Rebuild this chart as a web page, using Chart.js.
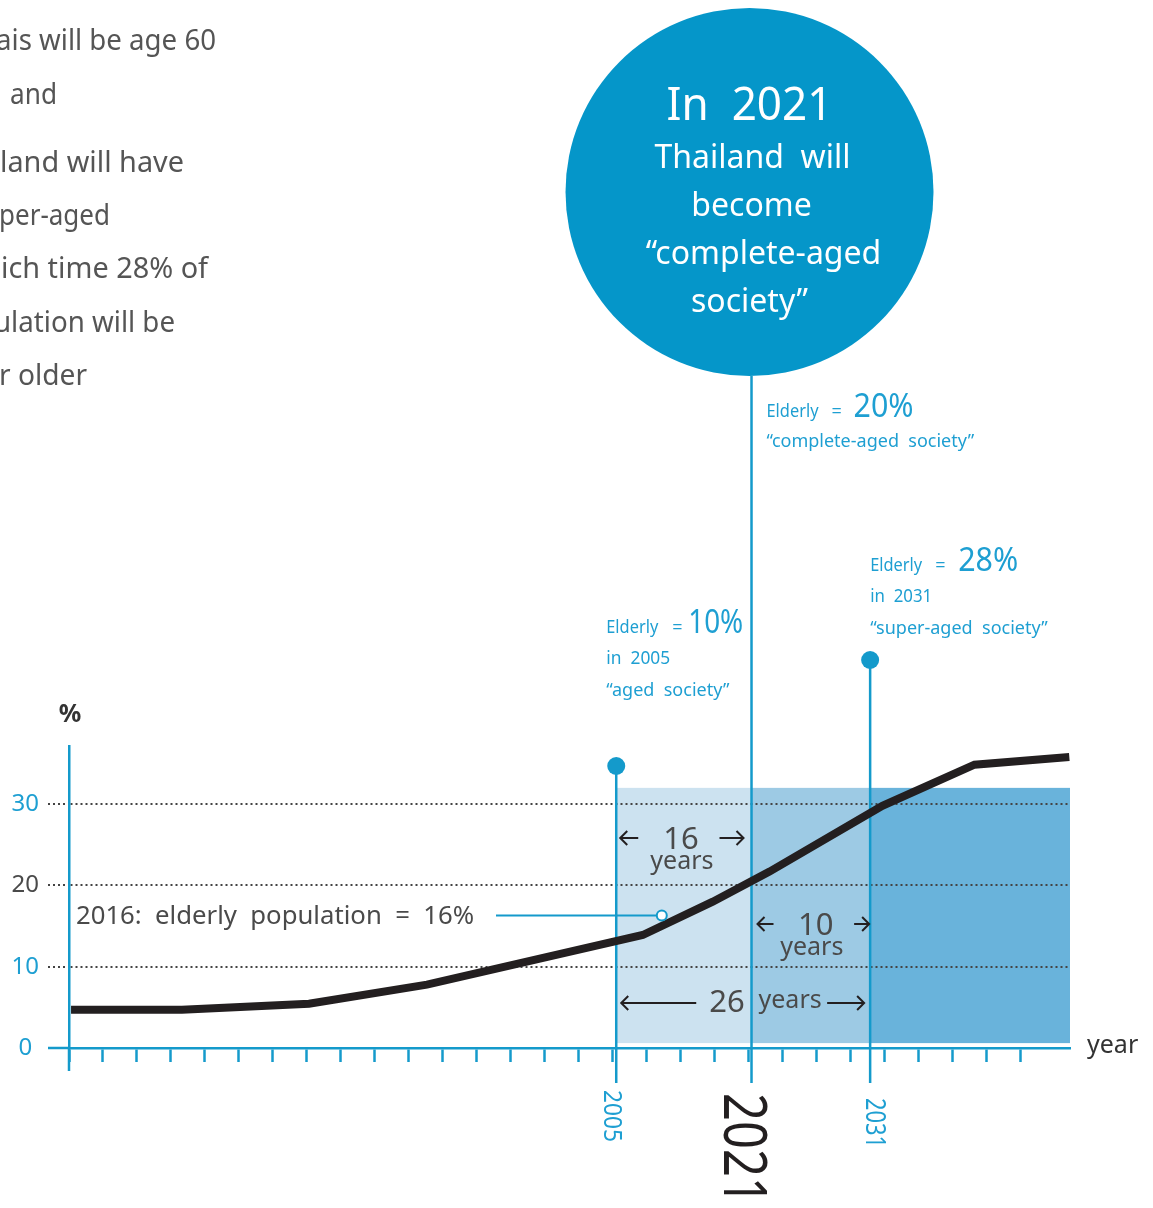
<!DOCTYPE html>
<html><head><meta charset="utf-8">
<script src="https://cdn.jsdelivr.net/npm/chart.js@4/dist/chart.umd.min.js"></script>
<style>html,body{margin:0;padding:0;background:#fff;overflow:hidden}#wrap{position:relative;width:1153px;height:1208px}</style>
</head><body><div id="wrap"><canvas id="c"></canvas></div>
<script>
// ---------- data ----------
// x axis is schematic: positions are in "tick steps" along the drawn axis
const axisSteps = [0,1,2,3,4,5,6,7,8,9,10,11,12,13,14,15,16,17,18,19,20,21,22,23,24,25,26,27,28];
const seriesSteps  = [0.06, 3.32, 7.06, 10.53, 16.88, 18.94, 20.61, 23.93, 26.64, 29.43];
const elderlyShare = [4.7, 4.7, 5.45, 7.8, 13.9, 18.0, 21.7, 29.8, 34.85, 35.8];
const yTickValues = [0, 10, 20, 30];
const milestoneYears  = [2005, 2021, 2031];
const milestoneSteps  = [16.1, 20.08, 23.57];
const milestoneShares = ['10%', '20%', '28%'];
const milestoneNames  = ['“aged  society”', '“complete-aged  society”', '“super-aged  society”'];
const gapYears = ['16', '10', '26'];
const highlightStep  = [17.44];   // 2016
const highlightShare = [16.3];
const highlightLabel = '2016:  elderly  population  =  16%';
const circleLines = ['In  2021', 'Thailand  will', 'become', '“complete-aged', 'society”'];
const sideLines = ['ais will be age 60', 'and', 'land will have', 'per-aged', 'ich time 28% of', 'ulation will be', 'r older'];

// ---------- style ----------
const BLUE = '#149ACB', TBLUE = '#1E9FD2', CIRCLE = '#0596C9', DARK = '#4A4A4A', BLACK = '#231F20', DOT = '#444444';
const BANDS = ['#CCE2F0', '#9DCAE4', '#69B3DB'];
const F = '"Noto Sans", "DejaVu Sans", sans-serif';

function txt(ctx, s, x, y, size, color, align, maxW, weight) {
  ctx.font = (weight || 'normal') + ' ' + size + 'px ' + F;
  ctx.fillStyle = color; ctx.textAlign = align || 'left'; ctx.textBaseline = 'alphabetic';
  if (maxW && ctx.measureText(s).width > maxW) ctx.fillText(s, x, y, maxW);
  else ctx.fillText(s, x, y);
}
function arrow(ctx, x1, x2, y) {
  const d = Math.sign(x2 - x1), h = 7;
  ctx.beginPath();
  ctx.moveTo(x1, y); ctx.lineTo(x2, y);
  ctx.moveTo(x2 - d * h, y - h); ctx.lineTo(x2, y); ctx.lineTo(x2 - d * h, y + h);
  ctx.strokeStyle = BLACK; ctx.lineWidth = 2; ctx.lineCap = 'butt'; ctx.lineJoin = 'miter'; ctx.stroke();
}
function vtext(ctx, s, x, y, size, color, maxW) {
  ctx.save(); ctx.translate(x, y); ctx.rotate(Math.PI / 2);
  txt(ctx, s, 0, 0, size, color, 'left', maxW);
  ctx.restore();
}

const bandsPlugin = {
  id: 'bands',
  beforeDraw(chart) {
    const {ctx, scales: {x, y}} = chart;
    const edges = [milestoneSteps[0], milestoneSteps[1], milestoneSteps[2], x.max];
    const top = y.getPixelForValue(32), bot = y.getPixelForValue(0.6);
    ctx.save();
    for (let i = 0; i < 3; i++) {
      const a = x.getPixelForValue(edges[i]), b = x.getPixelForValue(edges[i + 1]);
      ctx.fillStyle = BANDS[i];
      ctx.fillRect(a, top, b - a, bot - top);
    }
    ctx.restore();
  },
  beforeDatasetsDraw(chart) {
    const {ctx, scales: {x, y}, chartArea} = chart;
    const bottom = chartArea.bottom;
    ctx.save();
    ctx.strokeStyle = BLUE; ctx.lineWidth = 2.5; ctx.lineCap = 'butt';
    ctx.beginPath(); ctx.moveTo(chartArea.left, bottom); ctx.lineTo(chartArea.left, bottom + 23); ctx.stroke();
    const tops = [766, 376, 660];
    milestoneSteps.forEach((s, i) => {
      const px = x.getPixelForValue(s);
      ctx.beginPath(); ctx.moveTo(px, tops[i]); ctx.lineTo(px, bottom + 35); ctx.stroke();
    });
    const hx = x.getPixelForValue(highlightStep[0]), hy = y.getPixelForValue(highlightShare[0]);
    ctx.beginPath(); ctx.moveTo(496, hy); ctx.lineTo(hx - 5, hy); ctx.lineWidth = 2; ctx.stroke();
    ctx.restore();
  },
  afterDraw(chart) {
    const {ctx, scales: {x, y}, chartArea} = chart;
    const x05 = x.getPixelForValue(milestoneSteps[0]);
    const x21 = x.getPixelForValue(milestoneSteps[1]);
    const x31 = x.getPixelForValue(milestoneSteps[2]);
    ctx.save();
    ctx.fillStyle = BLUE;
    [[x05, 766], [x31, 660]].forEach(([cx, cy]) => { ctx.beginPath(); ctx.arc(cx, cy, 9, 0, Math.PI * 2); ctx.fill(); });
    const cx = x21 - 2, cy = 192;
    ctx.beginPath(); ctx.arc(cx, cy, 184, 0, Math.PI * 2); ctx.fillStyle = CIRCLE; ctx.fill();
    txt(ctx, circleLines[0], cx, 120, 46, '#fff', 'center', 166);
    txt(ctx, circleLines[1], cx + 3, 168, 32, '#fff', 'center', 204);
    txt(ctx, circleLines[2], cx + 2, 216, 32, '#fff', 'center', 136);
    txt(ctx, circleLines[3], cx + 14, 264, 32, '#fff', 'center', 266);
    txt(ctx, circleLines[4], cx, 312, 32, '#fff', 'center', 124);

    const side = [[-4, 50, 220], [10, 104, 47], [0, 172, 184], [-1, 225, 111], [1, 278, 207], [-6, 332, 181], [-1, 385, 88]];
    side.forEach(([sx, sy, w], i) => txt(ctx, sideLines[i], sx, sy, 29, '#555555', 'left', w));

    txt(ctx, 'Elderly', x21 + 15, 417, 18, TBLUE, 'left', 52);
    txt(ctx, '=', x21 + 80, 417, 18, TBLUE, 'left');
    txt(ctx, milestoneShares[1], x21 + 102, 417, 33, TBLUE, 'left', 60);
    txt(ctx, milestoneNames[1], x21 + 15, 447, 18, TBLUE, 'left', 221);

    txt(ctx, 'Elderly', x31, 571, 18, TBLUE, 'left', 52);
    txt(ctx, '=', x31 + 65, 571, 18, TBLUE, 'left');
    txt(ctx, milestoneShares[2], x31 + 88, 571, 33, TBLUE, 'left', 60);
    txt(ctx, 'in  ' + milestoneYears[2], x31, 602, 18, TBLUE, 'left', 62);
    txt(ctx, milestoneNames[2], x31, 634, 18, TBLUE, 'left', 186);

    txt(ctx, 'Elderly', x05 - 10, 633, 18, TBLUE, 'left', 52);
    txt(ctx, '=', x05 + 56, 633, 18, TBLUE, 'left');
    txt(ctx, milestoneShares[0], x05 + 72, 633, 33, TBLUE, 'left', 55);
    txt(ctx, 'in  ' + milestoneYears[0], x05 - 10, 664, 18, TBLUE, 'left', 64);
    txt(ctx, milestoneNames[0], x05 - 10, 696, 18, TBLUE, 'left', 134);

    const m1 = (x05 + x21) / 2, m2 = (x21 + x31) / 2;
    arrow(ctx, x05 + 22, x05 + 4, 838); arrow(ctx, x21 - 32, x21 - 8, 838);
    txt(ctx, gapYears[0], m1 - 3, 849, 31, DARK, 'center');
    txt(ctx, 'years', m1 - 2, 869, 25, DARK, 'center', 66);
    arrow(ctx, x21 + 22, x21 + 6, 924); arrow(ctx, x31 - 16, x31 - 1, 924);
    txt(ctx, gapYears[1], m2 + 5, 935, 31, DARK, 'center');
    txt(ctx, 'years', m2 + 1, 955, 25, DARK, 'center', 66);
    arrow(ctx, x05 + 80, x05 + 5, 1003); arrow(ctx, x31 - 43, x31 - 6, 1003);
    txt(ctx, gapYears[2], x05 + 93, 1012, 31, DARK, 'left');
    txt(ctx, 'years', x21 + 7, 1008, 25, DARK, 'left', 66);

    const hy = y.getPixelForValue(highlightShare[0]);
    txt(ctx, highlightLabel, 76, hy + 9, 26, DARK, 'left', 398);

    txt(ctx, '%', chartArea.left + 1, 722, 25, '#333', 'center', null, 'bold');
    txt(ctx, 'year', chartArea.right + 17, 1053, 25, '#333', 'left', 52);

    vtext(ctx, String(milestoneYears[0]), x05 - 12, 1090, 26, TBLUE, 52);
    vtext(ctx, String(milestoneYears[1]), x21 - 28, 1093, 60, BLACK, 112);
    vtext(ctx, String(milestoneYears[2]), x31 - 4, 1098, 27, TBLUE, 50);
    ctx.restore();
  }
};

new Chart(document.getElementById('c'), {
  type: 'line',
  data: {
    datasets: [
      {
        label: 'Elderly population (%)',
        data: seriesSteps.map((s, i) => ({x: s, y: elderlyShare[i]})),
        borderColor: BLACK, borderWidth: 8, pointRadius: 0, tension: 0,
        fill: false, clip: false, order: 2
      },
      {
        type: 'scatter',
        label: '2016',
        data: highlightStep.map((s, i) => ({x: s, y: highlightShare[i]})),
        pointRadius: 5, pointBorderWidth: 2, pointBackgroundColor: '#fff', pointBorderColor: BLUE,
        showLine: false, clip: false, order: 1
      }
    ]
  },
  options: {
    responsive: true, maintainAspectRatio: false, animation: false, devicePixelRatio: 1,
    layout: {padding: {top: 746, right: 83, bottom: 0, left: 0}},
    plugins: {legend: {display: false}, tooltip: {enabled: false}},
    scales: {
      x: {
        type: 'linear', min: 0, max: 29.45,
        afterBuildTicks: s => { s.ticks = axisSteps.map(v => ({value: v})); },
        afterFit: s => { s.height = 160; },
        ticks: {display: false},
        grid: {drawOnChartArea: false, drawTicks: true, tickLength: 14, tickWidth: 2.5, tickColor: BLUE},
        border: {display: true, color: BLUE, width: 2.5}
      },
      y: {
        type: 'linear', min: 0, max: 37.15,
        afterBuildTicks: s => { s.ticks = yTickValues.map(v => ({value: v})); },
        afterFit: s => { s.width = 69; },
        ticks: {
          font: {family: F, size: 24}, padding: 9, crossAlign: 'center',
          color: c => c.tick && c.tick.value === 20 ? DARK : TBLUE
        },
        grid: {
          color: c => c.tick && c.tick.value === 0 ? 'rgba(0,0,0,0)' : DOT,
          lineWidth: 2, tickLength: 21,
          tickColor: c => c.tick && c.tick.value === 0 ? BLUE : DOT,
          tickWidth: c => c.tick && c.tick.value === 0 ? 2.5 : 2,
          tickBorderDash: c => c.tick && c.tick.value === 0 ? [] : [2, 3]
        },
        border: {display: true, color: BLUE, width: 2.5, dash: c => c.tick && c.tick.value === 0 ? [] : [2, 3]}
      }
    }
  },
  plugins: [bandsPlugin]
});
</script></body></html>
